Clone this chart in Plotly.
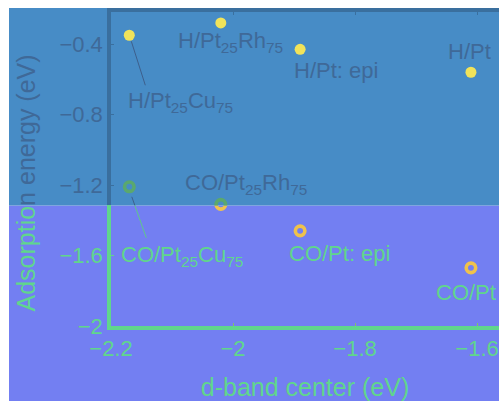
import plotly.graph_objects as go

# d-band centers and adsorption energies (eV)
d_band = [-2.17, -2.02, -1.89, -1.61]
e_h = [-0.35, -0.28, -0.43, -0.56]
e_co = [-1.21, -1.31, -1.46, -1.67]
h_labels = ["H/Pt<sub>25</sub>Cu<sub>75</sub>", "H/Pt<sub>25</sub>Rh<sub>75</sub>", "H/Pt: epi", "H/Pt"]
co_labels = ["CO/Pt<sub>25</sub>Cu<sub>75</sub>", "CO/Pt<sub>25</sub>Rh<sub>75</sub>", "CO/Pt: epi", "CO/Pt"]
x_ticks = [-2.2, -2.0, -1.8, -1.6]
x_tick_text = ["\u22122.2", "\u22122", "\u22121.8", "\u22121.6"]

# axis window and the level where the two bands meet
x_range = [-2.2, -1.564]
y_range = [-2.0, -0.218]
y_split = -1.316

# colours
BLUE = "#478cc6"
PURPLE = "#737ff2"
GREEN = "#60d68c"
DARK = "#3f6998"
DARK_LINE = "#3a6f9e"
H_YELLOW = "#f1e35a"
CO_YELLOW = "#efc24c"
CO_GREEN = "#5aa86e"
FONT = "Liberation Sans, Arial, sans-serif"

W, H = 499, 401
ML, MR, MT, MB = 111, 0, 12, 75
plot_w = W - ML - MR
plot_h = H - MT - MB
split = (y_split - y_range[0]) / (y_range[1] - y_range[0])


def px_to_paper_x(px):
    return (px - ML) / plot_w


def px_to_paper_y(py):
    return (H - MB - py) / plot_h


fig = go.Figure()

# CO points: yellow rings in the lower band, green rings in the upper band
fig.add_trace(go.Scatter(
    x=d_band, y=e_co, xaxis="x", yaxis="y", mode="markers",
    marker=dict(symbol="circle-open", size=9.5, color=CO_YELLOW, line=dict(width=3.6)),
    hoverinfo="skip", showlegend=False))
fig.add_trace(go.Scatter(
    x=d_band, y=e_co, xaxis="x2", yaxis="y2", mode="markers",
    marker=dict(symbol="circle-open", size=9.5, color=CO_GREEN, line=dict(width=3.6)),
    hoverinfo="skip", showlegend=False))
# H points
fig.add_trace(go.Scatter(
    x=d_band, y=e_h, xaxis="x2", yaxis="y2", mode="markers",
    marker=dict(symbol="circle", size=11, color=H_YELLOW, line=dict(width=0)),
    hoverinfo="skip", showlegend=False))

# background bands
fig.add_shape(type="rect", xref="paper", yref="paper", layer="below",
              x0=px_to_paper_x(9), x1=1.2, y0=px_to_paper_y(H + 20), y1=split,
              line=dict(width=0), fillcolor=PURPLE)
fig.add_shape(type="rect", xref="paper", yref="paper", layer="below",
              x0=px_to_paper_x(9), x1=1.2, y0=split, y1=px_to_paper_y(8),
              line=dict(width=0), fillcolor=BLUE)

# leader lines from labels to points (pixel offsets from each point)
fig.add_shape(type="line", xref="x2", yref="y2", xsizemode="pixel", ysizemode="pixel",
              xanchor=d_band[0], yanchor=e_h[0], x0=2, y0=-6, x1=16, y1=-50,
              line=dict(color="#3d5f8c", width=1))
for xr, yr, col in (("x2", "y2", "#3d5f8c"), ("x", "y", "#5fc88a")):
    fig.add_shape(type="line", xref=xr, yref=yr, xsizemode="pixel", ysizemode="pixel",
                  xanchor=d_band[0], yanchor=e_co[0], x0=2.5, y0=-10, x1=17, y1=-51,
                  line=dict(color=col, width=1))

# point labels
h_shift = [(51, -67), (10, -19), (36, -21), (-1, 21)]
co_shift = [(53, -69), (25, 20), (39, -23), (-5, -25)]
co_axes = [("x2", "y2"), ("x2", "y2"), ("x", "y"), ("x", "y")]
co_color = [GREEN, DARK, GREEN, GREEN]
for i, lab in enumerate(h_labels):
    fig.add_annotation(x=d_band[i], y=e_h[i], xref="x2", yref="y2", text=lab,
                       showarrow=False, xshift=h_shift[i][0], yshift=h_shift[i][1],
                       font=dict(family=FONT, size=22, color=DARK))
for i, lab in enumerate(co_labels):
    fig.add_annotation(x=d_band[i], y=e_co[i], xref=co_axes[i][0], yref=co_axes[i][1],
                       text=lab, showarrow=False,
                       xshift=co_shift[i][0], yshift=co_shift[i][1],
                       font=dict(family=FONT, size=22, color=co_color[i]))

# y-axis title spanning both bands
fig.add_annotation(
    xref="paper", yref="paper", x=px_to_paper_x(25), y=px_to_paper_y(183.5),
    xanchor="center", yanchor="middle",
    text=(f'<span style="color:{GREEN}">Adsorptio</span>'
          f'<span style="color:{DARK}">n energy (eV)</span>'),
    textangle=-90, showarrow=False, font=dict(family=FONT, size=25, color=GREEN))

axis_common = dict(showgrid=False, zeroline=False, ticks="inside", ticklen=3,
                   tickwidth=1)

fig.update_layout(
    width=W, height=H,
    margin=dict(l=ML, r=MR, t=MT, b=MB, pad=0),
    paper_bgcolor="white", plot_bgcolor="rgba(0,0,0,0)",
    font=dict(family=FONT, size=22),
    showlegend=False,
    xaxis=dict(domain=[0, 1], anchor="y", range=x_range, tickvals=x_ticks,
               ticktext=x_tick_text, showline=True, linecolor=GREEN, linewidth=4,
               tickcolor="#7fc46a", tickfont=dict(color=GREEN, size=22),
               title=dict(text="d-band center (eV)", font=dict(color=GREEN, size=25),
                          standoff=19),
               **axis_common),
    xaxis2=dict(domain=[0, 1], anchor="y2", matches="x", side="top",
                showline=True, linecolor=DARK_LINE, linewidth=4.4,
                tickvals=x_ticks, tickcolor=DARK_LINE, showticklabels=False,
                **axis_common),
    yaxis=dict(domain=[0, split], anchor="x", range=[y_range[0], y_split],
               tick0=0, dtick=0.4, showline=True, linecolor=GREEN, linewidth=3.5,
               tickcolor=GREEN, tickfont=dict(color=GREEN, size=22),
               **axis_common),
    yaxis2=dict(domain=[split, 1], anchor="x2", range=[y_split, y_range[1]],
                tick0=0, dtick=0.4, showline=True, linecolor=DARK_LINE, linewidth=3.5,
                tickcolor=DARK_LINE, tickfont=dict(color=DARK, size=22),
                **axis_common),
)

fig.write_html("out.html")
